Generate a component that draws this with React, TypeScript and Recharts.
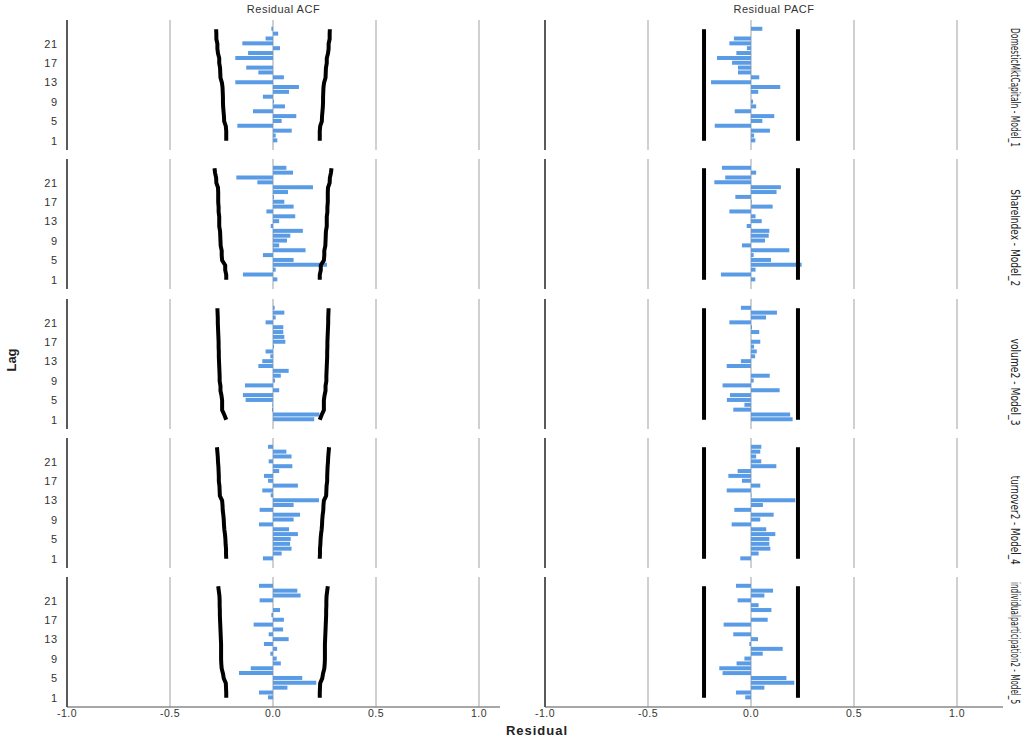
import { ComposedChart, Bar, Line, XAxis, YAxis, CartesianGrid } from "recharts";

const LAGS = [1, 2, 3, 4, 5, 6, 7, 8, 9, 10, 11, 12, 13, 14, 15, 16, 17, 18, 19, 20, 21, 22, 23, 24];
const LAG_TICKS = [1, 5, 9, 13, 17, 21];
const RESIDUAL_TICKS = [-1, -0.5, 0, 0.5, 1];

const MODEL_NAMES = [
  "DomesticMktCapitaln - Model_1",
  "ShareIndex - Model_2",
  "volume2 - Model_3",
  "turnover2 - Model_4",
  "individualparticipation2 - Model_5",
];

// residual ACF, lag 1 .. 24
const ACF_1 = [0.021, 0.013, 0.091, -0.173, 0.042, 0.113, -0.097, 0.058, 0.005, -0.049, 0.078, 0.126, -0.183, 0.053, -0.071, -0.13, 0.0, -0.183, -0.121, 0.034, -0.149, -0.036, 0.025, -0.008];
const ACF_2 = [0.021, -0.146, 0.013, 0.262, 0.1, -0.049, 0.158, 0.03, 0.068, 0.084, 0.145, -0.011, 0.03, 0.108, -0.032, 0.1, 0.055, 0.005, 0.073, 0.194, -0.076, -0.178, 0.097, 0.065];
const ACF_3 = [0.2, 0.225, -0.005, -0.003, -0.133, -0.146, 0.03, -0.136, 0.01, 0.038, 0.076, -0.071, -0.052, -0.013, -0.036, 0.005, 0.06, 0.055, 0.05, 0.05, -0.036, 0.013, 0.055, 0.008];
const ACF_4 = [-0.049, 0.042, 0.09, 0.083, 0.086, 0.121, 0.078, -0.068, 0.1, 0.131, -0.065, 0.1, 0.223, -0.011, -0.052, 0.121, -0.024, -0.044, 0.03, 0.094, -0.021, 0.09, 0.065, -0.024];
const ACF_5 = [-0.024, -0.068, 0.07, 0.21, 0.142, -0.165, -0.108, 0.038, 0.018, -0.013, 0.02, -0.044, 0.076, -0.021, 0.049, -0.094, 0.053, -0.008, 0.034, 0.0, -0.065, 0.134, 0.118, -0.068];

// ACF confidence limits (+/-), lag 1 .. 24
const ACF_LIM_1 = [0.227, 0.227, 0.227, 0.229, 0.237, 0.238, 0.24, 0.242, 0.243, 0.243, 0.244, 0.245, 0.248, 0.255, 0.256, 0.257, 0.261, 0.261, 0.267, 0.27, 0.27, 0.275, 0.275, 0.276];
const ACF_LIM_2 = [0.227, 0.227, 0.232, 0.232, 0.247, 0.249, 0.249, 0.254, 0.255, 0.256, 0.257, 0.261, 0.261, 0.261, 0.264, 0.264, 0.266, 0.266, 0.266, 0.267, 0.275, 0.276, 0.281, 0.284];
const ACF_LIM_3 = [0.227, 0.236, 0.247, 0.247, 0.247, 0.25, 0.255, 0.255, 0.259, 0.259, 0.26, 0.261, 0.262, 0.263, 0.263, 0.264, 0.264, 0.265, 0.266, 0.267, 0.268, 0.268, 0.269, 0.27];
const ACF_LIM_4 = [0.227, 0.228, 0.228, 0.23, 0.231, 0.233, 0.236, 0.238, 0.239, 0.241, 0.244, 0.245, 0.247, 0.258, 0.259, 0.26, 0.263, 0.263, 0.264, 0.265, 0.267, 0.268, 0.27, 0.272];
const ACF_LIM_5 = [0.227, 0.227, 0.228, 0.229, 0.239, 0.243, 0.249, 0.251, 0.252, 0.252, 0.252, 0.252, 0.253, 0.254, 0.255, 0.256, 0.257, 0.258, 0.258, 0.259, 0.259, 0.26, 0.263, 0.266];

// residual PACF, lag 1 .. 24
const PACF_1 = [0.021, 0.015, 0.092, -0.176, 0.055, 0.113, -0.079, 0.025, 0.01, 0.0, 0.035, 0.142, -0.194, 0.04, -0.063, -0.063, -0.092, -0.165, -0.071, -0.02, -0.105, -0.083, 0.0, 0.055];
const PACF_2 = [0.021, -0.146, 0.022, 0.246, 0.097, 0.013, 0.186, -0.044, 0.068, 0.086, 0.089, -0.021, 0.052, 0.022, -0.105, 0.105, 0.003, -0.076, 0.124, 0.145, -0.178, -0.125, 0.025, -0.141];
const PACF_3 = [0.202, 0.19, -0.086, -0.032, -0.117, -0.102, 0.139, -0.138, 0.013, 0.091, 0.0, -0.118, -0.049, 0.02, 0.028, 0.015, 0.045, 0.0, 0.04, 0.005, -0.105, 0.073, 0.126, -0.049];
const PACF_4 = [-0.052, 0.037, 0.094, 0.089, 0.089, 0.118, 0.074, -0.094, 0.045, 0.11, -0.081, 0.058, 0.215, 0.002, -0.118, 0.045, -0.044, -0.11, -0.065, 0.123, 0.05, 0.025, 0.045, 0.05];
const PACF_5 = [-0.028, -0.073, 0.065, 0.21, 0.172, -0.138, -0.154, -0.07, -0.032, 0.057, 0.154, -0.008, 0.034, -0.086, 0.0, -0.133, 0.081, 0.0, 0.099, 0.037, -0.065, 0.065, 0.107, -0.073];

// PACF confidence limit (+/-), one per model
const PACF_LIMITS = [0.228, 0.228, 0.228, 0.228, 0.228];

const ACF_SERIES = [ACF_1, ACF_2, ACF_3, ACF_4, ACF_5];
const ACF_LIMITS = [ACF_LIM_1, ACF_LIM_2, ACF_LIM_3, ACF_LIM_4, ACF_LIM_5];
const PACF_SERIES = [PACF_1, PACF_2, PACF_3, PACF_4, PACF_5];

// layout
const ROW_TOP = 20;
const ROW_STEP = 139.25;
const PLOT_H = 130;
const LEFT_X = 67;
const LEFT_W = 433;
const RIGHT_X = 545;
const RIGHT_W = 458;
const PX_PER_UNIT = 206;
const LABEL_LEN = [119, 97, 87, 89, 122];

const FONT = "'Liberation Sans', Arial, sans-serif";
const BAR_COLOR = "#5a9be6";

const noTick = () => <g />;

type PanelProps = {
  values: number[];
  limits: number[];
  x: number;
  y: number;
  plotW: number;
  lagTicks: boolean;
  residualTicks: boolean;
};

function Panel({ values, limits, x, y, plotW, lagTicks, residualTicks }: PanelProps) {
  const data = LAGS.map((lag, i) => ({
    lag,
    value: values[i],
    upper: limits[i],
    lower: -limits[i],
  }));
  // the right column keeps a small gutter so its "-1.0" label is not clipped
  const yAxisW = lagTicks ? LEFT_X : 24;
  const xAxisH = residualTicks ? 22 : 0;
  const maxX = plotW / PX_PER_UNIT - 1;
  return (
    <div style={{ position: "absolute", left: x - yAxisW, top: y }}>
      <ComposedChart
        layout="vertical"
        width={yAxisW + plotW}
        height={PLOT_H + xAxisH}
        data={data}
        margin={{ top: 0, right: 0, bottom: 0, left: 0 }}
      >
        <CartesianGrid horizontal={false} syncWithTicks stroke="#d0d0d0" strokeWidth={2} />
        <XAxis
          type="number"
          domain={[-1, maxX]}
          ticks={RESIDUAL_TICKS}
          allowDataOverflow
          height={xAxisH}
          axisLine={{ stroke: "#8a8a8a", strokeWidth: 1.5 }}
          tickLine={false}
          tickSize={0}
          tickMargin={3}
          tick={residualTicks ? { fontSize: 10.5, fill: "#333", fontFamily: FONT, letterSpacing: 0.5 } : noTick}
          tickFormatter={(v: number) => v.toFixed(1)}
        />
        <YAxis
          type="number"
          dataKey="lag"
          domain={[-0.9, 25.9]}
          ticks={LAG_TICKS}
          reversed
          allowDataOverflow
          width={yAxisW}
          axisLine={{ stroke: "#333", strokeWidth: 1.5 }}
          tickLine={false}
          tickSize={0}
          tickMargin={9}
          tick={lagTicks ? { fontSize: 11, fill: "#333", fontFamily: FONT, letterSpacing: 0.8 } : noTick}
        />
        <Bar dataKey="value" fill={BAR_COLOR} barSize={4} isAnimationActive={false} />
        <Line dataKey="upper" stroke="#000" strokeWidth={4} dot={false} type="linear" isAnimationActive={false} />
        <Line dataKey="lower" stroke="#000" strokeWidth={4} dot={false} type="linear" isAnimationActive={false} />
      </ComposedChart>
    </div>
  );
}

export default function App() {
  return (
    <div
      style={{
        position: "absolute",
        left: 0,
        top: 0,
        width: 1029,
        height: 740,
        background: "#fff",
        overflow: "hidden",
      }}
    >
      {MODEL_NAMES.map((name, r) => {
        const top = ROW_TOP + ROW_STEP * r;
        const last = r === MODEL_NAMES.length - 1;
        return (
          <div key={name}>
            <Panel
              values={ACF_SERIES[r]}
              limits={ACF_LIMITS[r]}
              x={LEFT_X}
              y={top}
              plotW={LEFT_W}
              lagTicks
              residualTicks={last}
            />
            <Panel
              values={PACF_SERIES[r]}
              limits={LAGS.map(() => PACF_LIMITS[r])}
              x={RIGHT_X}
              y={top}
              plotW={RIGHT_W}
              lagTicks={false}
              residualTicks={last}
            />
          </div>
        );
      })}
      <svg
        width={1029}
        height={740}
        style={{ position: "absolute", left: 0, top: 0, pointerEvents: "none" }}
        fontFamily={FONT}
      >
        <text x={LEFT_X + LEFT_W / 2} y={13} textAnchor="middle" fontSize={11} fill="#333" letterSpacing={0.5}>
          Residual ACF
        </text>
        <text x={RIGHT_X + RIGHT_W / 2} y={13} textAnchor="middle" fontSize={11} fill="#333" letterSpacing={0.5}>
          Residual PACF
        </text>
        <text
          transform="translate(16, 360) rotate(-90)"
          textAnchor="middle"
          fontSize={13}
          fontWeight="bold"
          fill="#222"
        >
          Lag
        </text>
        <text x={537} y={735} textAnchor="middle" fontSize={13} fontWeight="bold" fill="#222" letterSpacing={1}>
          Residual
        </text>
        {MODEL_NAMES.map((name, r) => {
          const bottom = ROW_TOP + ROW_STEP * r + PLOT_H - 3;
          return (
            <text
              key={name}
              transform={`translate(1011, ${bottom}) rotate(90)`}
              textAnchor="end"
              fontSize={11.5}
              fill="#222"
              fontFamily="'DejaVu Sans Condensed', 'DejaVu Sans', sans-serif"
              textLength={LABEL_LEN[r]}
              lengthAdjust="spacingAndGlyphs"
            >
              {name}
            </text>
          );
        })}
      </svg>
    </div>
  );
}
